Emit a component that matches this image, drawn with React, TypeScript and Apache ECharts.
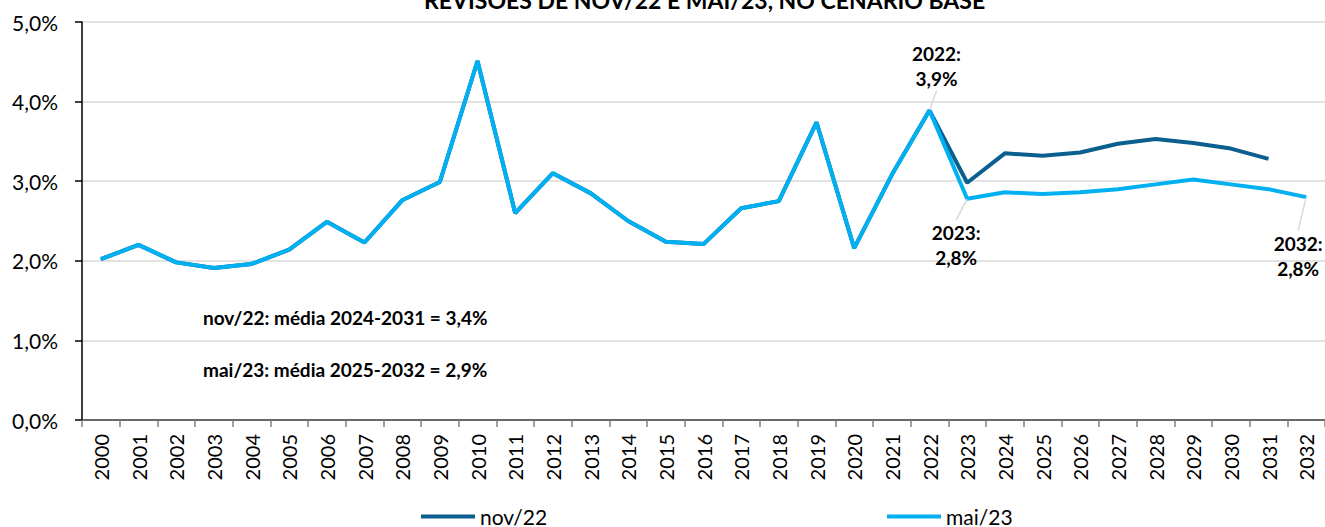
import React, { useEffect, useRef } from "react";
import * as echarts from "echarts";

const years = [
  "2000", "2001", "2002", "2003", "2004", "2005", "2006", "2007", "2008", "2009",
  "2010", "2011", "2012", "2013", "2014", "2015", "2016", "2017", "2018", "2019",
  "2020", "2021", "2022", "2023", "2024", "2025", "2026", "2027", "2028", "2029",
  "2030", "2031", "2032",
];

// 2000-2022 (common history)
const historyValues = [
  2.02, 2.2, 1.98, 1.91, 1.96, 2.14, 2.49, 2.23, 2.76, 2.99,
  4.51, 2.6, 3.1, 2.85, 2.5, 2.24, 2.21, 2.66, 2.75, 3.74,
  2.16, 3.08, 3.89,
];
// 2023-2031
const nov22Forecast = [2.98, 3.35, 3.32, 3.36, 3.47, 3.53, 3.48, 3.41, 3.28];
// 2023-2032
const mai23Forecast = [2.78, 2.86, 2.84, 2.86, 2.9, 2.96, 3.02, 2.96, 2.9, 2.8];

const yTicks = [0, 1, 2, 3, 4, 5];
const labeledYears = ["2022", "2023", "2032"];
const titleText = "REVISÕES DE NOV/22 E MAI/23, NO CENÁRIO BASE";
const noteNov = "nov/22: média 2024-2031 = 3,4%";
const noteMai = "mai/23: média 2025-2032 = 2,9%";

const fmt = (v: number) => v.toFixed(1).replace(".", ",") + "%";
const FONT = "Lato";
const NOV_COLOR = "#0b5f8f";
const MAI_COLOR = "#00b0f0";

export default function App() {
  const ref = useRef<HTMLDivElement>(null);
  useEffect(() => {
    if (!ref.current) return;
    const chart = echarts.init(ref.current, null, { renderer: "svg" });
    const nov = [...historyValues, ...nov22Forecast];
    while (nov.length < years.length) nov.push(null as any);
    const mai = [...historyValues, ...mai23Forecast];
    const maiData = mai.map((v, i) => {
      if (labeledYears.includes(years[i])) {
        const above = years[i] === "2022";
        return {
          value: v,
          label: {
            show: true,
            position: above ? "top" : "bottom",
            distance: 5,
            formatter: `${years[i]}:\n${fmt(v)}`,
          },
        };
      }
      return v;
    });
    chart.setOption({
      animation: false,
      title: {
        text: titleText,
        left: 424,
        top: -12,
        padding: 0,
        textStyle: { fontFamily: FONT, fontSize: 23, fontWeight: "bold", color: "#000" },
      },
      legend: [
        {
          data: ["nov/22"],
          left: 416,
          top: 501,
          icon: "rect",
          itemWidth: 54,
          itemHeight: 4,
          textStyle: { fontFamily: FONT, fontSize: 21, color: "#000" },
        },
        {
          data: ["mai/23"],
          left: 882,
          top: 501,
          icon: "rect",
          itemWidth: 54,
          itemHeight: 4,
          textStyle: { fontFamily: FONT, fontSize: 21, color: "#000" },
        },
      ],
      grid: { left: 82, right: -8, top: 22, bottom: 107 },
      xAxis: {
        type: "category",
        data: years,
        boundaryGap: true,
        axisLine: { lineStyle: { color: "#404040", width: 1.5 } },
        axisTick: { show: true, length: 7, lineStyle: { color: "#7f7f7f", width: 1.5 } },
        axisLabel: {
          rotate: 90,
          margin: 14,
          interval: 0,
          fontFamily: FONT,
          fontSize: 20,
          color: "#000",
        },
      },
      yAxis: {
        type: "value",
        min: 0,
        max: yTicks[yTicks.length - 1],
        interval: 1,
        axisLine: { show: true, lineStyle: { color: "#000", width: 1.5 } },
        axisTick: { show: true, length: 7, lineStyle: { color: "#000", width: 1.5 } },
        splitLine: { lineStyle: { color: "#d9d9d9", width: 1.5 } },
        axisLabel: {
          margin: 24,
          fontFamily: FONT,
          fontSize: 21,
          color: "#000",
          formatter: (v: number) => fmt(v),
        },
      },
      graphic: [
        {
          type: "text",
          left: 203,
          top: 308,
          style: { text: noteNov, fontFamily: FONT, fontSize: 19, fontWeight: "bold", fill: "#000" },
        },
        {
          type: "text",
          left: 203,
          top: 360,
          style: { text: noteMai, fontFamily: FONT, fontSize: 19, fontWeight: "bold", fill: "#000" },
        },
      ],
      series: [
        {
          name: "nov/22",
          type: "line",
          data: nov,
          symbol: "none",
          color: NOV_COLOR,
          lineStyle: { width: 4, color: NOV_COLOR },
          z: 2,
        },
        {
          name: "mai/23",
          type: "line",
          data: maiData,
          symbol: "circle",
          symbolSize: 1,
          showSymbol: true,
          color: MAI_COLOR,
          itemStyle: { color: MAI_COLOR },
          lineStyle: { width: 4, color: MAI_COLOR },
          z: 3,
          label: {
            show: false,
            fontFamily: FONT,
            fontSize: 19,
            fontWeight: "bold",
            color: "#000",
            lineHeight: 25,
            align: "center",
          },
          labelLine: { show: true, lineStyle: { color: "#d9d9d9", width: 1.5 } },
          labelLayout: (params: any) => {
            const y = years[params.dataIndex];
            if (y === "2022") return { dx: 7, dy: -14 };
            if (y === "2023") return { dx: -11, dy: 16 };
            if (y === "2032") return { dx: -8, dy: 28 };
            return {};
          },
        },
      ],
    });
    return () => chart.dispose();
  }, []);
  return (
    <div
      ref={ref}
      style={{ position: "absolute", left: 0, top: 0, width: 1325, height: 527 }}
    />
  );
}
